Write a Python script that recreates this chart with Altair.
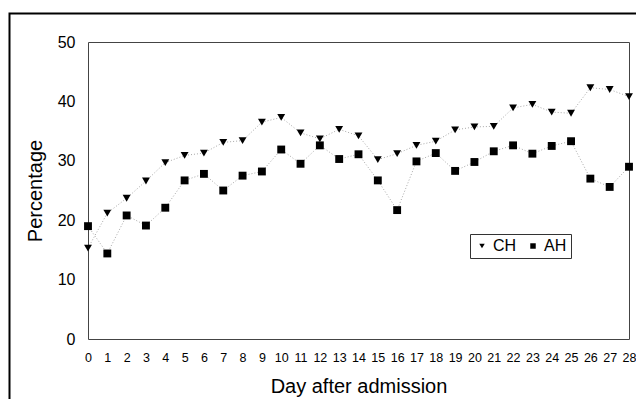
import altair as alt
import pandas as pd

days = list(range(29))
series = ["CH", "AH"]
ch_values = [15.3, 21.2, 23.7, 26.6, 29.7, 30.9, 31.3, 33.1, 33.4, 36.5,
             37.3, 34.7, 33.7, 35.3, 34.2, 30.2, 31.2, 32.6, 33.3, 35.2,
             35.7, 35.8, 38.9, 39.5, 38.2, 38.0, 42.3, 42.0, 40.8]
ah_values = [19.0, 14.4, 20.8, 19.1, 22.1, 26.7, 27.8, 25.0, 27.5, 28.2,
             31.9, 29.5, 32.6, 30.3, 31.1, 26.7, 21.7, 29.9, 31.3, 28.3,
             29.8, 31.6, 32.6, 31.2, 32.5, 33.3, 27.0, 25.6, 29.0]
y_ticks = [0, 10, 20, 30, 40, 50]

rows = []
for d, v in zip(days, ch_values):
    rows.append({"day": d, "pct": v, "group": "CH"})
for d, v in zip(days, ah_values):
    rows.append({"day": d, "pct": v, "group": "AH"})
df = pd.DataFrame(rows)

W, H = 541, 297
FONT = "Liberation Sans"

x_enc = alt.X("day:Q", scale=alt.Scale(domain=[0, 28], nice=False, zero=False),
              axis=alt.Axis(values=days, title="Day after admission", grid=False,
                            domain=False, ticks=False, tickSize=0, labelPadding=12,
                            labelFontSize=12.5, labelFont=FONT, labelColor="black",
                            titleFontSize=20, titleFont=FONT, titleFontWeight="normal",
                            titleColor="black", titlePadding=13, labelFlush=False,
                            labelOverlap=False))
y_enc = alt.Y("pct:Q", scale=alt.Scale(domain=[0, 50], nice=False),
              axis=alt.Axis(values=y_ticks, title="Percentage", grid=False,
                            domain=False, ticks=False, tickSize=0, labelPadding=13,
                            labelFontSize=16, labelFont=FONT, labelColor="black",
                            titleFontSize=20, titleFont=FONT, titleFontWeight="normal",
                            titleColor="black", titlePadding=12))

base = alt.Chart(df)

lines = base.mark_line(color="#a8a8a8", strokeDash=[1, 2], strokeWidth=1).encode(
    x=x_enc, y=y_enc, detail="group:N")

points = base.mark_point(filled=True, color="black", opacity=1, size=62).encode(
    x=x_enc, y=y_enc,
    shape=alt.Shape("group:N",
                    scale=alt.Scale(domain=series, range=["triangle-down", "square"]),
                    legend=alt.Legend(orient="none", legendX=382, legendY=192,
                                      direction="horizontal", title=None,
                                      strokeColor="#333", fillColor="white",
                                      padding=4, labelFontSize=16, labelFont=FONT,
                                      labelColor="black", symbolSize=30,
                                      symbolFillColor="black", symbolStrokeColor="black",
                                      labelOffset=3, columnPadding=8, cornerRadius=0)))

frame = alt.Chart(pd.DataFrame({"a": [0]})).mark_rect(
    fill=None, stroke="black", strokeWidth=2).encode(
    x=alt.value(-78.5), x2=alt.value(W + 30), y=alt.value(-28.5), y2=alt.value(H + 80))

chart = alt.layer(frame, lines, points).properties(
    width=W, height=H,
    autosize=alt.AutoSizeParams(type="none"),
    padding={"left": 80, "top": 34, "right": 7, "bottom": 60},
    background="white",
).configure_view(stroke="#444", strokeWidth=1)

chart.save("out.html", embed_options={"renderer": "svg", "actions": False})
